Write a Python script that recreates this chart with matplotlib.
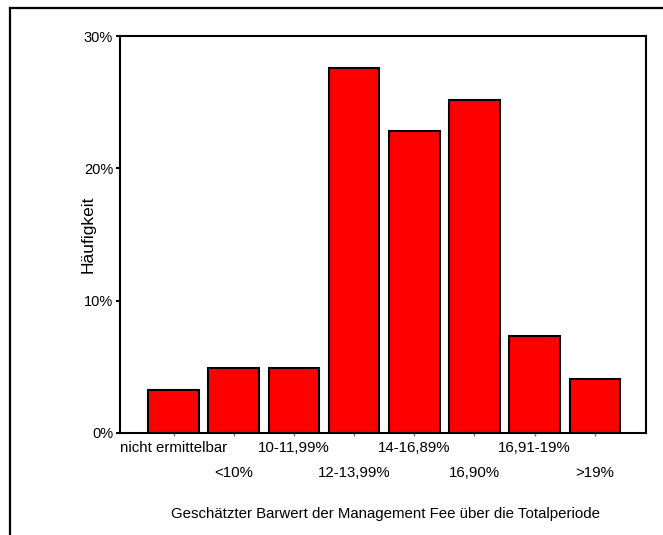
import matplotlib
matplotlib.use("Agg")
from matplotlib import pyplot as plt
from matplotlib.lines import Line2D

plt.rcParams['font.family'] = ['Liberation Sans', 'DejaVu Sans']

categories = ['nicht ermittelbar', '<10%', '10-11,99%', '12-13,99%',
              '14-16,89%', '16,90%', '16,91-19%', '>19%']
percent = [3.25, 4.88, 4.88, 27.6, 22.8, 25.2, 7.3, 4.07]
y_ticks = [0, 10, 20, 30]
y_tick_labels = ['0%', '10%', '20%', '30%']

W, H = 663, 535
fig = plt.figure(figsize=(W / 100, H / 100), dpi=100)

# plot area in pixels: left 120, right 646, top 36, bottom 433
ax = fig.add_axes([120 / W, 1 - 433 / H, (646 - 120) / W, (433 - 36) / H])

x = list(range(len(categories)))
ax.bar(x, percent, width=0.84, color='#ff0000', edgecolor='black', linewidth=1.5)

ax.set_xlim(-0.89, 7.85)
ax.set_ylim(0, 30)
ax.set_yticks(y_ticks)
ax.set_yticklabels(y_tick_labels, fontsize=10.5)
ax.tick_params(axis='y', direction='out', length=3, width=1.5, pad=2)
ax.set_xticks(x)
ax.set_xticklabels([])
ax.tick_params(axis='x', direction='out', length=2, width=1, color='#777777')

for i, lab in enumerate(categories):
    off = 0 if i % 2 == 0 else 25
    ax.annotate(lab, xy=(i, 0), xycoords='data', xytext=(0, -(15 + off) * 0.72),
                textcoords='offset points', ha='center', va='center', fontsize=10.8)

for s in ax.spines.values():
    s.set_linewidth(1.5)

fig.text(88 / W, 1 - 234 / H, 'Häufigkeit', rotation=90, ha='center', va='center', fontsize=12.5)
fig.text(385 / W, 1 - 514 / H, 'Geschätzter Barwert der Management Fee über die Totalperiode',
         ha='center', va='center', fontsize=10.8)

# outer frame (left and top edges)
fig.add_artist(Line2D([10 / W, 10 / W], [0, 1 - 8 / H], color='black', linewidth=1.6,
                      transform=fig.transFigure))
fig.add_artist(Line2D([10 / W, 1], [1 - 8 / H, 1 - 8 / H], color='black', linewidth=1.6,
                      transform=fig.transFigure))

fig.savefig('out.png', dpi=100)
